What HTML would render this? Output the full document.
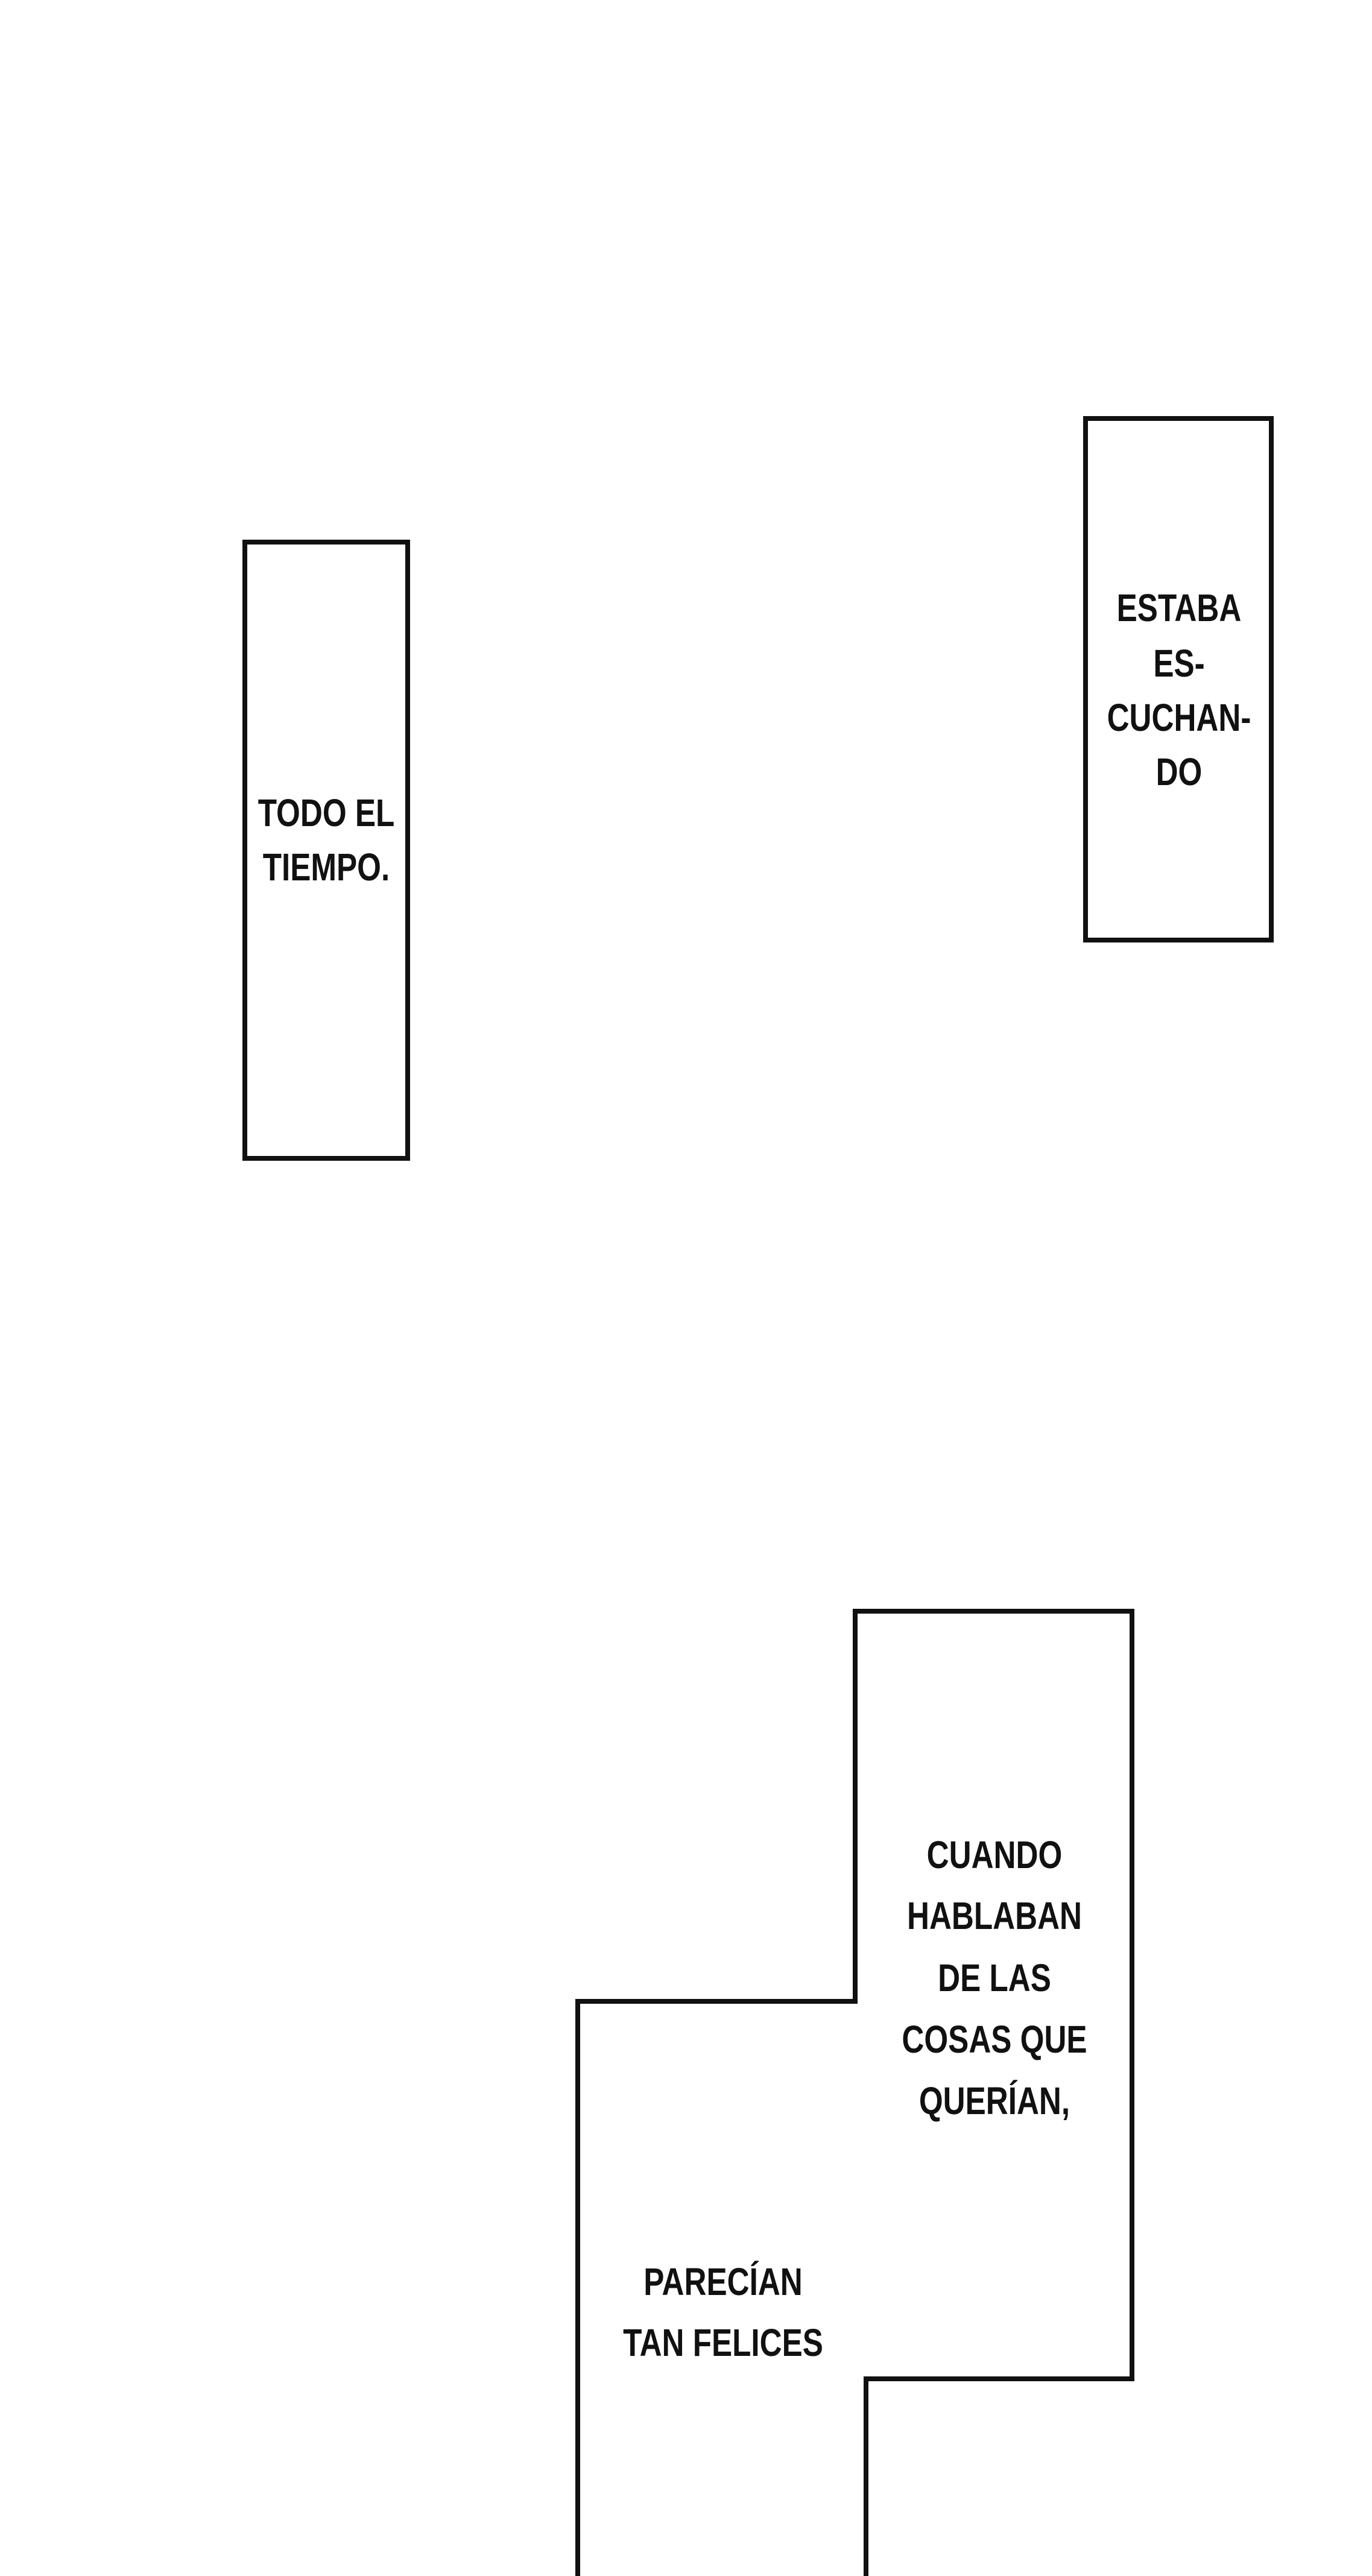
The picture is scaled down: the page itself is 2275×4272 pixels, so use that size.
<!DOCTYPE html>
<html><head><meta charset="utf-8"><style>
html,body{margin:0;padding:0;background:#fff;}
svg{display:block}
text{font-family:"Liberation Sans",sans-serif;font-weight:bold;fill:#111;text-anchor:middle;}
</style></head><body>
<svg width="2275" height="4272" viewBox="0 0 2275 4272" xmlns="http://www.w3.org/2000/svg">
<rect width="2275" height="4272" fill="#fff"/>
<g fill="none" stroke="#111" stroke-width="8">
<rect x="406" y="899" width="270" height="1022"/>
<rect x="1800" y="694" width="308" height="865"/>
<path d="M958 4280 L958 3319 L1418 3319 L1418 2672 L1877 2672 L1877 3945 L1436 3945 L1436 4280"/>
</g>
<g font-size="64">
<g transform="translate(541,0) scale(0.8,1) translate(-541,0)">
<text x="541" y="1370">TODO EL</text>
<text x="541" y="1460">TIEMPO.</text>
</g>
<g transform="translate(1955,0) scale(0.8,1) translate(-1955,0)">
<text x="1955" y="1030">ESTABA</text>
<text x="1955" y="1122">ES-</text>
<text x="1955" y="1212">CUCHAN-</text>
<text x="1955" y="1302">DO</text>
</g>
<g transform="translate(1649,0) scale(0.8,1) translate(-1649,0)">
<text x="1649" y="3098">CUANDO</text>
<text x="1649" y="3199">HABLABAN</text>
<text x="1649" y="3302">DE LAS</text>
<text x="1649" y="3404">COSAS QUE</text>
<text x="1649" y="3506">QUERÍAN,</text>
</g>
<g transform="translate(1199,0) scale(0.8,1) translate(-1199,0)">
<text x="1199" y="3806">PARECÍAN</text>
<text x="1199" y="3907">TAN FELICES</text>
</g>
</g>
</svg>
</body></html>
